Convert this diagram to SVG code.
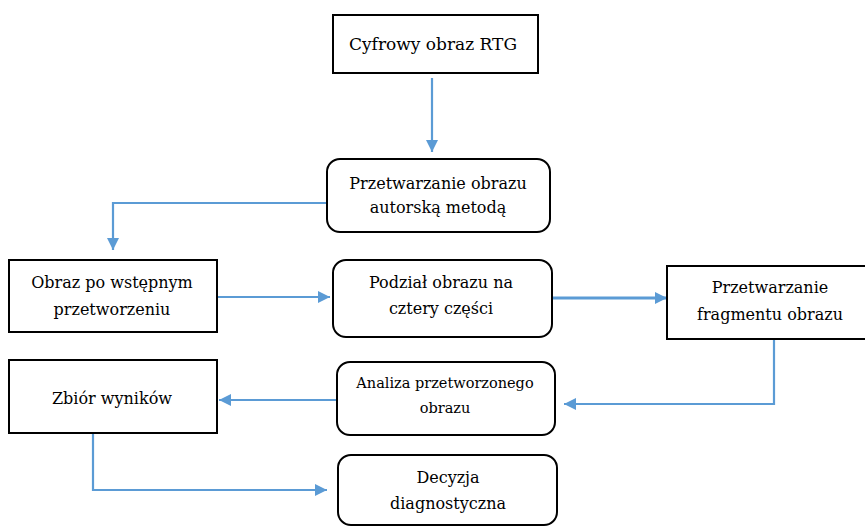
<svg xmlns="http://www.w3.org/2000/svg" width="865" height="527" viewBox="0 0 865 527">
<defs>
<style>
.box{fill:#fff;stroke:#000;stroke-width:2}
.t{font-family:'DejaVu Serif','Liberation Serif',serif;font-size:16px;fill:#000;text-anchor:middle}
.c{fill:none;stroke:#5B9BD5;stroke-width:2.2;marker-end:url(#ah)}
</style>
<marker id="ah" markerUnits="userSpaceOnUse" markerWidth="14" markerHeight="14" viewBox="0 0 14 14" refX="13" refY="7" orient="auto">
<path d="M1,1 L13,7 L1,13 Z" fill="#5B9BD5"/>
</marker>
</defs>
<rect width="865" height="527" fill="#fff"/>
<g id="connectors">
<path class="c" d="M432,78 V152"/>
<path class="c" d="M327,203 H113 V250"/>
<path class="c" d="M215,297 H330"/>
<path class="c" d="M552,298 H667" style="stroke-width:3"/>
<path class="c" d="M774,339 V404 H564"/>
<path class="c" d="M337,400 H219"/>
<path class="c" d="M93,433 V490 H327"/>
</g>
<g id="n1"><rect class="box" x="333" y="15" width="205" height="58"/><text class="t" x="433" y="50" style="font-size:17px">Cyfrowy obraz RTG</text></g>
<g id="n2"><rect class="box" x="327" y="159" width="223" height="73" rx="13"/><text class="t" x="438" y="189">Przetwarzanie obrazu</text><text class="t" x="438" y="213">autorską metodą</text></g>
<g id="n3"><rect class="box" x="9" y="260" width="208" height="72"/><text class="t" x="112" y="288">Obraz po wstępnym</text><text class="t" x="112" y="315">przetworzeniu</text></g>
<g id="n4"><rect class="box" x="333" y="260" width="219" height="77" rx="13"/><text class="t" x="441" y="288">Podział obrazu na</text><text class="t" x="441" y="314">cztery części</text></g>
<g id="n5"><rect class="box" x="667" y="266" width="205" height="73"/><text class="t" x="770" y="293">Przetwarzanie</text><text class="t" x="770" y="320">fragmentu obrazu</text></g>
<g id="n6"><rect class="box" x="337" y="362" width="218" height="73" rx="13"/><text class="t" x="445" y="388" style="font-size:14.5px">Analiza przetworzonego</text><text class="t" x="445" y="413" style="font-size:14.5px">obrazu</text></g>
<g id="n7"><rect class="box" x="9" y="360" width="208" height="73"/><text class="t" x="112" y="404">Zbiór wyników</text></g>
<g id="n8"><rect class="box" x="338" y="455" width="219" height="70" rx="13"/><text class="t" x="448" y="483">Decyzja</text><text class="t" x="448" y="509">diagnostyczna</text></g>
</svg>
